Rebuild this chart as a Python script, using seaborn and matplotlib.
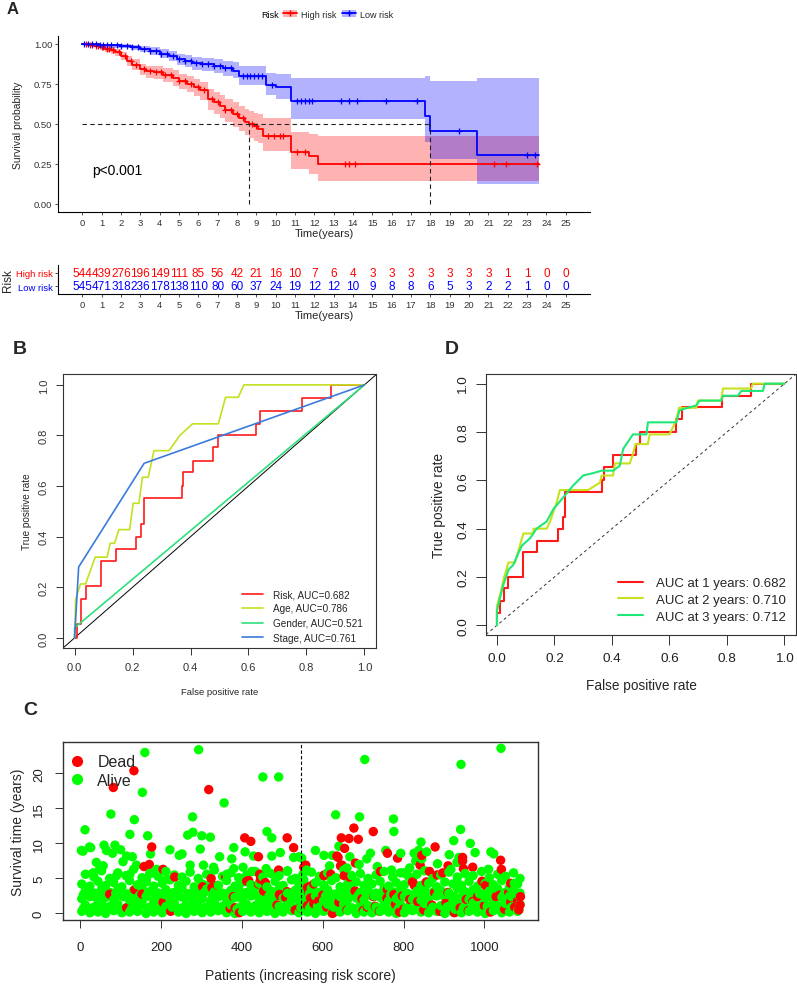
import numpy as np
import pandas as pd
import matplotlib
matplotlib.use('Agg')
import matplotlib.pyplot as plt
import seaborn as sns
from matplotlib.lines import Line2D
from matplotlib.patches import Patch

sns.set_theme(style='white')
plt.rcParams['font.family'] = ['Liberation Sans', 'DejaVu Sans']

# ---------------- Panel A data (Kaplan-Meier) ----------------
high_t = [0, 0.3, 0.6, 0.93, 1.2, 1.5, 1.7, 2.0, 2.3, 2.6, 3.0, 3.3, 3.7, 4.2, 4.7, 5.0, 5.4, 5.8, 6.1,
          6.5, 6.8, 7.1, 7.4, 7.8, 8.1, 8.4, 8.6, 8.9, 9.1, 9.35, 10.8, 11.75, 12.2, 23.6]
high_s = [1.0, 0.995, 0.99, 0.979, 0.97, 0.96, 0.948, 0.925, 0.896, 0.87, 0.844, 0.83, 0.823, 0.805, 0.79,
          0.77, 0.75, 0.73, 0.71, 0.656, 0.635, 0.61, 0.585, 0.56, 0.535, 0.515, 0.50, 0.485, 0.47, 0.427,
          0.323, 0.30, 0.25, 0.25]
high_lo = [1.0, 0.99, 0.98, 0.965, 0.95, 0.94, 0.925, 0.90, 0.865, 0.835, 0.806, 0.79, 0.78, 0.76, 0.74,
           0.72, 0.70, 0.675, 0.65, 0.59, 0.565, 0.535, 0.51, 0.48, 0.455, 0.43, 0.415, 0.395, 0.38, 0.33,
           0.22, 0.19, 0.145, 0.145]
high_hi = [1.0, 1.0, 1.0, 0.993, 0.99, 0.98, 0.97, 0.95, 0.925, 0.905, 0.875, 0.865, 0.86, 0.85, 0.835,
           0.815, 0.80, 0.78, 0.765, 0.72, 0.70, 0.68, 0.655, 0.635, 0.61, 0.595, 0.58, 0.57, 0.56, 0.54,
           0.45, 0.44, 0.425, 0.425]
high_censor = [0.2, 0.4, 0.5, 0.7, 0.8, 1.0, 1.1, 1.3, 1.4, 1.6, 1.9, 2.2, 2.5, 2.8, 3.2, 3.5, 3.8, 4.1,
               4.3, 4.6, 5.0, 5.3, 5.6, 6.0, 6.3, 6.7, 7.0, 7.4, 7.7, 8.0, 8.3, 8.8, 9.0, 9.6, 9.9, 10.2,
               10.4, 11.1, 11.5, 13.6, 13.8, 14.1, 21.3, 21.9, 23.5]

low_t = [0, 0.5, 0.9, 1.4, 2.0, 2.5, 3.0, 3.5, 4.0, 4.5, 4.9, 5.3, 5.7, 6.2, 6.8, 7.3, 7.8, 8.1, 9.5,
         10.0, 10.8, 17.7, 18.0, 20.4, 23.6]
low_s = [1.0, 0.998, 0.995, 0.992, 0.99, 0.98, 0.97, 0.955, 0.94, 0.925, 0.906, 0.893, 0.88, 0.872, 0.865,
         0.85, 0.833, 0.80, 0.745, 0.73, 0.646, 0.552, 0.458, 0.306, 0.306]
low_lo = [1.0, 0.99, 0.985, 0.978, 0.972, 0.96, 0.948, 0.93, 0.91, 0.893, 0.87, 0.855, 0.84, 0.83, 0.82,
          0.80, 0.785, 0.745, 0.68, 0.655, 0.53, 0.385, 0.28, 0.125, 0.125]
low_hi = [1.0, 1.0, 1.0, 1.0, 0.998, 0.995, 0.99, 0.98, 0.97, 0.955, 0.94, 0.93, 0.92, 0.91, 0.905, 0.895,
          0.885, 0.86, 0.82, 0.81, 0.79, 0.80, 0.77, 0.79, 0.79]
low_censor = [0.1, 0.3, 0.5, 0.7, 0.9, 1.1, 1.3, 1.5, 1.8, 2.0, 2.3, 2.6, 2.9, 3.2, 3.5, 3.8, 4.1, 4.4, 4.7,
              5.0, 5.3, 5.6, 5.9, 6.2, 6.5, 6.8, 7.1, 7.4, 7.7, 8.3, 8.5, 8.7, 8.9, 9.1, 9.3, 9.8, 11.1,
              11.3, 11.5, 11.7, 11.9, 13.4, 13.8, 14.2, 15.7, 17.3, 19.5, 23.0, 23.4]
median_high = 8.6
median_low = 18.0

years = list(range(26))
high_risk_n = [544, 439, 276, 196, 149, 111, 85, 56, 42, 21, 16, 10, 7, 6, 4, 3, 3, 3, 3, 3, 3, 3, 1, 1, 0, 0]
low_risk_n = [545, 471, 318, 236, 178, 138, 110, 80, 60, 37, 24, 19, 12, 12, 10, 9, 8, 8, 6, 5, 3, 2, 2, 1, 0, 0]

# ---------------- Panel B data (ROC by variable) ----------------
risk_fpr = [0, 0.01, 0.01, 0.023, 0.023, 0.038, 0.038, 0.09, 0.09, 0.142, 0.142, 0.211, 0.211, 0.23, 0.23,
            0.239, 0.239, 0.369, 0.369, 0.375, 0.375, 0.409, 0.409, 0.479, 0.479, 0.496, 0.496, 0.626,
            0.626, 0.64, 0.64, 0.786, 0.786, 0.886, 0.886, 1.0]
risk_tpr = [0, 0, 0.055, 0.055, 0.153, 0.153, 0.206, 0.206, 0.305, 0.305, 0.352, 0.352, 0.40, 0.40, 0.45,
            0.45, 0.553, 0.553, 0.602, 0.602, 0.655, 0.655, 0.70, 0.70, 0.753, 0.753, 0.80, 0.80, 0.846,
            0.846, 0.898, 0.898, 0.947, 0.947, 1.0, 1.0]
age_fpr = [0, 0.0035, 0.0206, 0.038, 0.071, 0.112, 0.123, 0.138, 0.153, 0.19, 0.202, 0.222, 0.234, 0.254,
           0.274, 0.326, 0.363, 0.407, 0.496, 0.521, 0.565, 0.584, 1.0]
age_tpr = [0, 0.153, 0.213, 0.213, 0.319, 0.319, 0.374, 0.374, 0.428, 0.428, 0.532, 0.532, 0.635, 0.635,
           0.74, 0.74, 0.80, 0.846, 0.846, 0.951, 0.951, 1.0, 1.0]
gender_fpr = [0, 0.0, 1.0]
gender_tpr = [0, 0.04, 1.0]
stage_fpr = [0, 0.014, 0.24, 1.0]
stage_tpr = [0, 0.28, 0.69, 1.0]
b_labels = ['Risk, AUC=0.682', 'Age, AUC=0.786', 'Gender, AUC=0.521', 'Stage, AUC=0.761']

# ---------------- Panel D data (time-dependent ROC) ----------------
y1_fpr = [0, 0.0, 0.0116, 0.0116, 0.023, 0.023, 0.04, 0.04, 0.092, 0.092, 0.138, 0.138, 0.213, 0.213,
          0.23, 0.23, 0.238, 0.238, 0.364, 0.364, 0.371, 0.371, 0.404, 0.404, 0.482, 0.482, 0.496, 0.496,
          0.624, 0.624, 0.645, 0.645, 0.784, 0.784, 0.884, 0.884, 1.0]
y1_tpr = [0, 0.05, 0.05, 0.10, 0.10, 0.153, 0.153, 0.20, 0.20, 0.304, 0.304, 0.35, 0.35, 0.40, 0.40, 0.45,
          0.45, 0.553, 0.553, 0.60, 0.60, 0.656, 0.656, 0.704, 0.704, 0.752, 0.752, 0.80, 0.80, 0.855,
          0.855, 0.904, 0.904, 0.95, 0.95, 1.0, 1.0]
y2_fpr = [0, 0.0, 0.012, 0.023, 0.04, 0.063, 0.07, 0.092, 0.127, 0.127, 0.173, 0.185, 0.208, 0.219, 0.317,
          0.358, 0.364, 0.404, 0.41, 0.462, 0.473, 0.482, 0.525, 0.531, 0.6, 0.624, 0.633, 0.693, 0.699,
          0.78, 0.786, 0.884, 0.89, 1.0]
y2_tpr = [0, 0.08, 0.13, 0.19, 0.26, 0.26, 0.29, 0.38, 0.38, 0.40, 0.40, 0.43, 0.51, 0.56, 0.56, 0.59,
          0.62, 0.62, 0.67, 0.67, 0.71, 0.75, 0.75, 0.79, 0.79, 0.85, 0.90, 0.90, 0.93, 0.93, 0.98, 0.98,
          1.0, 1.0]
y3_fpr = [0, 0.0, 0.012, 0.023, 0.04, 0.057, 0.075, 0.087, 0.115, 0.138, 0.173, 0.196, 0.231, 0.266,
          0.3, 0.335, 0.364, 0.404, 0.427, 0.439, 0.473, 0.52, 0.525, 0.624, 0.635, 0.693, 0.705, 0.78,
          0.786, 0.838, 0.85, 0.925, 0.931, 1.0]
y3_tpr = [0, 0.06, 0.12, 0.17, 0.23, 0.25, 0.30, 0.33, 0.36, 0.40, 0.43, 0.48, 0.53, 0.58, 0.62, 0.63,
          0.64, 0.64, 0.66, 0.73, 0.79, 0.79, 0.84, 0.84, 0.89, 0.91, 0.93, 0.93, 0.95, 0.95, 0.97, 0.97,
          1.0, 1.0]
d_labels = ['AUC at 1 years: 0.682', 'AUC at 2 years: 0.710', 'AUC at 3 years: 0.712']

# ---------------- Panel C data (survival status scatter) ----------------
band_xa = [4, 24, 44, 63, 83, 103, 122, 142, 163, 182, 203, 222, 243, 262, 282, 302, 323, 342, 362, 383,
           402, 422, 443, 462, 482, 502, 523, 541, 562, 582, 602, 622, 643, 662, 683, 702, 722, 742, 763,
           782, 802, 822, 843, 862, 882, 902, 922, 943, 962, 983, 1002, 1022, 1043, 1062, 1082]
band_xb = [13, 34, 53, 73, 93, 113, 132, 153, 172, 193, 212, 233, 252, 272, 292, 313, 332, 352, 373, 392,
           412, 433, 452, 472, 492, 513, 532, 551, 572, 592, 612, 633, 652, 672, 693, 712, 732, 752, 773,
           792, 812, 833, 852, 872, 892, 912, 933, 952, 972, 993, 1012, 1033, 1052, 1072, 1088]
band_xc = [8, 29, 49, 68, 88, 108, 127, 147, 168, 187, 208, 227, 248, 267, 287, 307, 328, 347, 367, 388,
           407, 427, 448, 467, 487, 507, 528, 546, 567, 587, 607, 627, 648, 667, 688, 707, 727, 747, 768,
           787, 807, 827, 848, 867, 887, 907, 927, 948, 967, 988, 1007, 1027, 1048, 1067, 1085]
band_t0 = [0.3, 0.1, 0.2, 0.0, 0.4, 0.1, 0.2, 0.3, 0.0, 0.2, 0.1, 0.4, 0.2, 0.0, 0.3, 0.1, 0.2, 0.4, 0.1,
           0.0, 0.3, 0.2, 0.1, 0.3, 0.0, 0.2, 0.4, 0.1, 0.2, 0.0, 0.3, 0.1, 0.2, 0.4, 0.0, 0.2, 0.1, 0.3,
           0.2, 0.0, 0.1, 0.4, 0.2, 0.1, 0.3, 0.0, 0.2, 0.1, 0.3, 0.2, 0.0, 0.4, 0.1, 0.2, 0.3]
band_t1 = [1.2, 0.9, 1.4, 1.0, 1.3, 0.8, 1.1, 1.5, 0.9, 1.2, 1.0, 1.4, 0.8, 1.3, 1.1, 0.9, 1.5, 1.0, 1.2,
           0.8, 1.3, 1.1, 0.9, 1.4, 1.0, 1.2, 0.8, 1.5, 1.1, 0.9, 1.3, 1.0, 1.4, 0.8, 1.2, 1.1, 0.9, 1.5,
           1.0, 1.3, 0.8, 1.2, 1.4, 0.9, 1.1, 1.0, 1.3, 0.8, 1.5, 1.2, 0.9, 1.1, 1.4, 1.0, 1.3]
band_t2 = [2.1, 2.4, 1.8, 2.3, 2.0, 2.5, 1.9, 2.2, 2.4, 1.8, 2.3, 2.0, 2.5, 1.9, 2.2, 2.1, 1.8, 2.4, 2.0,
           2.3, 1.9, 2.5, 2.1, 1.8, 2.4, 2.2, 2.0, 1.9, 2.3, 2.5, 1.8, 2.1, 2.4, 2.0, 2.2, 1.9, 2.5, 2.3,
           1.8, 2.1, 2.4, 2.0, 1.9, 2.2, 2.5, 2.3, 1.8, 2.1, 2.0, 2.4, 2.2, 1.9, 2.3, 2.5, 2.0]
band_t3 = [3.2, 2.9, 3.5, 3.0, 3.4, 2.8, 3.3, 3.6, 3.1, 2.9, 3.4, 3.0, 3.6, 2.8, 3.2, 3.5, 3.1, 2.9, 3.3,
           3.6, 3.0, 3.4, 2.8, 3.2, 3.5, 2.9, 3.3, 3.1, 3.6, 3.0, 3.4, 2.8, 3.2, 3.5, 3.0, 3.3, 2.9, 3.6,
           3.1, 3.4, 2.8, 3.2, 3.5, 3.0, 3.3, 2.9, 3.6, 3.1, 3.4, 2.8, 3.2, 3.5, 3.0, 3.3, 2.9]
band_t4 = [4.2, 3.9, 4.6, 4.0, 4.4, 3.8, 4.7, 4.1, 4.5, 3.9, 4.3, 4.8, 4.0, 4.6, 3.8, 4.2, 4.4, 4.0, 4.7,
           3.9, 4.5, 4.1, 4.3, 3.8, 4.6, 4.0, 4.8, 4.2, 3.9, 4.4, 4.1, 4.7, 3.8, 4.3, 4.5, 4.0, 4.2, 4.6,
           3.9, 4.4, 4.1, 4.8, 4.0, 4.3, 3.8, 4.5, 4.2, 4.0, 4.6, 3.9, 4.3, 4.1, 4.7, 3.8, 4.2]
band_t5 = [5.6, 5.2, 6.1, 5.0, 5.8, 5.4, 6.3, 5.1, 5.7, 5.3, 6.0, 5.5, 5.2, 5.9, 5.0, 5.6, 6.2, 5.3, 5.8,
           5.1, 5.5, 6.0, 5.2, 5.7, 5.4, 6.1, 5.0, 5.6, 5.9, 5.3, 5.8, 5.1, 6.2, 5.4, 5.7, 5.0, 5.5, 6.0,
           5.2, 5.8, 5.3, 5.6, 6.1, 5.0, 5.5, 5.9, 5.2, 5.7, 5.4, 6.0, 5.1, 5.6, 5.3, 5.8, 5.0]
band_t6 = [0.7, 0.5, 0.9, 0.6, 0.8, 0.5, 0.7, 1.0, 0.6, 0.8, 0.5, 0.9, 0.7, 0.6, 1.0, 0.8, 0.5, 0.7, 0.9,
           0.6, 0.8, 0.5, 1.0, 0.7, 0.6, 0.9, 0.5, 0.8, 0.7, 1.0, 0.6, 0.9, 0.5, 0.8, 0.7, 0.6, 1.0, 0.5,
           0.9, 0.7, 0.8, 0.6, 0.5, 1.0, 0.7, 0.9, 0.6, 0.8, 0.5, 0.7, 1.0, 0.6, 0.8, 0.9, 0.5]
band_t7 = [2.7, 2.5, 3.0, 2.6, 2.9, 2.4, 2.8, 2.6, 3.0, 2.5, 2.7, 2.9, 2.4, 2.8, 2.6, 3.0, 2.5, 2.7, 2.9,
           2.4, 2.8, 2.6, 3.0, 2.5, 2.7, 2.4, 2.9, 2.6, 2.8, 3.0, 2.5, 2.7, 2.4, 2.9, 2.6, 2.8, 2.5, 3.0,
           2.7, 2.4, 2.9, 2.6, 2.8, 2.5, 3.0, 2.7, 2.4, 2.9, 2.6, 2.8, 2.5, 3.0, 2.7, 2.4, 2.6]

alive_x = [160, 154, 76, 134, 12, 123, 167, 26, 3, 7, 23, 59, 86, 65, 80, 100, 115, 129, 174, 222, 245, 40,
           57, 106, 139, 32, 48, 90, 123, 189, 181, 164, 214,
           293, 452, 491, 356, 278, 279, 266, 301, 322, 462, 474, 380, 297, 252, 408, 429, 474, 495, 528,
           345, 375, 272, 305, 330, 380, 403, 425, 460, 512, 363, 541, 553, 548, 560,
           704, 632, 691, 775, 776, 640, 582, 603, 624, 667, 709, 718, 756, 793, 826, 617,
           660, 690, 735, 770, 800, 815, 830, 845,
           1041, 942, 941, 924, 965, 977, 1016, 1023, 843, 837, 857, 913, 937, 884, 932, 1010, 917, 932,
           1041, 1074]
alive_t = [23.0, 17.3, 14.2, 13.4, 11.95, 11.3, 11.1, 9.4, 9.0, 8.9, 9.5, 9.76, 9.76, 9.0, 8.6, 9.1, 8.2,
           8.1, 8.5, 9.1, 8.3, 7.3, 6.8, 7.4, 6.9, 5.8, 6.3, 5.4, 5.6, 6.3, 5.8, 4.9, 4.9,
           23.4, 19.5, 19.5, 15.8, 13.8, 11.6, 11.2, 11.1, 10.9, 11.7, 10.8, 9.4, 9.2, 8.5, 8.8, 8.2, 8.2,
           8.7, 8.0, 8.1, 7.8, 6.9, 6.9, 6.6, 6.4, 6.6, 6.0, 6.4, 6.0, 5.6, 8.1, 4.8, 7.9, 6.2,
           22.0, 14.1, 13.8, 13.5, 11.7, 9.6, 9.0, 8.3, 8.3, 8.1, 7.8, 8.6, 9.0, 8.6, 8.6, 6.8,
           6.5, 7.0, 6.7, 6.2, 5.8, 6.5, 7.5, 7.8,
           23.6, 21.3, 12.0, 10.4, 10.0, 8.7, 8.8, 8.5, 10.2, 9.0, 8.8, 8.4, 8.0, 7.1, 7.3, 6.3, 6.3, 4.5,
           5.3, 4.3]

dead_x = [133, 82, 177, 158, 171, 205, 234, 135, 153, 115, 224, 73, 205, 82,
          318, 407, 422, 512, 528, 441, 491, 324, 446, 360, 417, 441, 303, 326, 340, 454, 394, 383, 495,
          371, 379, 444, 493, 508, 512, 487, 532, 458, 412,
          677, 725, 646, 665, 688, 654, 638, 760, 785, 558, 553, 681, 648, 743, 603, 620, 653, 666, 570,
          562, 578, 565, 570, 545, 562, 578, 626, 660, 697, 726, 759, 776, 797, 822, 828, 604, 624, 635,
          644,
          878, 845, 946, 946, 1040, 1042, 841, 910, 948, 971, 864, 883, 897, 856, 827, 1065, 1089, 1088,
          1082, 1037, 1029, 994, 1003, 983, 971, 926, 910, 877, 835, 1050, 1065,
          850, 870, 890, 905, 940, 955, 960, 1000, 1015, 1060, 1075, 1085, 710, 740, 780, 800, 815, 600,
          590, 610, 640, 680, 700, 730, 760, 790]
dead_t = [20.4, 18.0, 9.5, 6.7, 7.0, 6.3, 5.2, 3.4, 2.75, 0.8, 0.3, 2.75, 1.6, 2.5,
          17.7, 10.8, 10.3, 10.8, 9.4, 8.1, 6.2, 5.0, 4.9, 5.2, 4.7, 4.2, 3.8, 3.7, 4.0, 3.2, 0.1, 0.8, 2.5,
          0.7, 2.4, 5.6, 2.7, 2.3, 3.1, 1.2, 0.5, 4.4, 4.6,
          12.2, 11.7, 10.8, 10.7, 10.6, 9.3, 8.0, 8.6, 7.9, 6.9, 6.6, 7.2, 6.9, 6.0, 5.4, 5.6, 5.4, 5.2,
          3.9, 3.7, 4.2, 3.0, 2.2, 0.8, 1.1, 1.4, 0.1, 0.5, 2.1, 2.4, 2.2, 2.7, 2.5, 4.5, 4.0, 5.5, 0.0,
          8.2, 6.8,
          9.5, 8.3, 8.0, 7.5, 7.6, 6.3, 6.9, 6.8, 6.4, 6.6, 6.0, 5.5, 5.8, 4.5, 4.0, 4.3, 2.4, 1.2, 1.8,
          2.6, 2.4, 4.6, 4.0, 2.4, 1.7, 0.1, 3.0, 3.0, 1.7, 0.6, 1.6,
          0.5, 1.2, 0.3, 1.5, 0.8, 2.0, 0.4, 1.1, 0.2, 3.0, 0.9, 0.5, 0.9, 0.3, 1.3, 0.6, 2.0, 2.6, 1.8,
          0.9, 1.6, 3.2, 0.4, 1.0, 3.4, 0.2]
risk_cutoff = 545

# ---------------- Figure ----------------
W, H = 797, 987
fig = plt.figure(figsize=(W / 100, H / 100), dpi=100)


def ax_px(l, t, r, b):
    return fig.add_axes([l / W, 1 - b / H, (r - l) / W, (b - t) / H])


RED, BLUE = '#FF0000', '#0000FF'
TXT = '#333333'

# ----- Panel A -----
axA = ax_px(58, 37, 590, 213)
axA.fill_between(high_t, high_lo, high_hi, step='post', color=RED, alpha=0.3, lw=0)
axA.fill_between(low_t, low_lo, low_hi, step='post', color=BLUE, alpha=0.3, lw=0)
sns.lineplot(x=high_t, y=high_s, drawstyle='steps-post', estimator=None, sort=False, color=RED, lw=1.3, ax=axA)
sns.lineplot(x=low_t, y=low_s, drawstyle='steps-post', estimator=None, sort=False, color=BLUE, lw=1.3, ax=axA)
for ct, tt, ss, col in [(high_censor, high_t, high_s, RED), (low_censor, low_t, low_s, BLUE)]:
    idx = np.searchsorted(tt, ct, side='right') - 1
    axA.plot(ct, np.array(ss)[idx], ls='none', marker='+', color=col, ms=5, mew=0.9)
axA.plot([0, median_low], [0.5, 0.5], ls=(0, (4, 3)), color='#222222', lw=0.8)
axA.plot([median_high, median_high], [0, 0.5], ls=(0, (4, 3)), color='#222222', lw=0.8)
axA.plot([median_low, median_low], [0, 0.5], ls=(0, (4, 3)), color='#222222', lw=0.8)
axA.text(0.5, 0.21, 'p<0.001', fontsize=10, color='black', va='center', ha='left')
axA.set_xlim(-1.25, 26.25)
axA.set_ylim(-0.05, 1.05)
axA.set_xticks(years)
axA.set_yticks([0, 0.25, 0.5, 0.75, 1.0])
axA.set_yticklabels(['0.00', '0.25', '0.50', '0.75', '1.00'])
axA.tick_params(axis='both', length=2.5, width=0.6, pad=1.5, labelsize=6.8, labelcolor=TXT, color=TXT,
                bottom=True, left=True)
axA.set_xlabel('Time(years)', fontsize=8, labelpad=1)
axA.set_ylabel('Survival probability', fontsize=7.5, labelpad=8)
for s in ['top', 'right']:
    axA.spines[s].set_visible(False)
for s in ['left', 'bottom']:
    axA.spines[s].set_color('black')
    axA.spines[s].set_linewidth(0.8)

# legend of A
hdl_h = (Patch(facecolor=RED, alpha=0.3, lw=0), Line2D([], [], color=RED, marker='+', lw=1.3, ms=5))
hdl_l = (Patch(facecolor=BLUE, alpha=0.3, lw=0), Line2D([], [], color=BLUE, marker='+', lw=1.3, ms=5))
fig.text(279 / W, 1 - 15 / H, 'Risk', fontsize=6.5, va='center', ha='right', color='black')
fig.legend([hdl_h, hdl_l], ['High risk', 'Low risk'], loc='center left', bbox_to_anchor=(283 / W, 1 - 15 / H),
           ncol=2, frameon=False, fontsize=6.5, handlelength=1.6, handletextpad=0.4, columnspacing=0.6,
           borderaxespad=0, borderpad=0)
fig.text(7 / W, 1 - 2 / H, 'A', fontsize=12, fontweight='bold', va='top', ha='left')

# ----- Risk table -----
axT = ax_px(58, 266, 590, 295)
for yr, hn, ln in zip(years, high_risk_n, low_risk_n):
    axT.text(yr, 2, str(hn), color=RED, fontsize=8.5, ha='center', va='center')
    axT.text(yr, 1, str(ln), color=BLUE, fontsize=8.5, ha='center', va='center')
axT.set_xlim(-1.25, 26.25)
axT.set_ylim(0.4, 2.6)
axT.set_xticks(years)
axT.set_yticks([1, 2])
axT.set_yticklabels(['Low risk', 'High risk'])
for lab, col in zip(axT.get_yticklabels(), [BLUE, RED]):
    lab.set_color(col)
axT.tick_params(axis='both', length=2.5, width=0.6, pad=1.5, labelsize=6.8, color=TXT, bottom=True, left=True)
axT.tick_params(axis='x', labelcolor=TXT)
axT.tick_params(axis='y', labelsize=6.8)
axT.set_xlabel('Time(years)', fontsize=8, labelpad=1)
axT.set_ylabel('Risk', fontsize=8.5, labelpad=1)
for s in ['top', 'right']:
    axT.spines[s].set_visible(False)
for s in ['left', 'bottom']:
    axT.spines[s].set_color('black')
    axT.spines[s].set_linewidth(0.8)


def r_box(ax, lw=0.8):
    for s in ax.spines.values():
        s.set_visible(True)
        s.set_color('#333333')
        s.set_linewidth(lw)


# ----- Panel B -----
axB = ax_px(63, 375, 376, 649)
axB.axline((0, 0), (1, 1), color='black', lw=0.7)
b_cols = ['#FF1A1A', '#C4E021', '#2EE07A', '#3A7BDB']
for fx, ty, col, lab in zip([risk_fpr, age_fpr, gender_fpr, stage_fpr], [risk_tpr, age_tpr, gender_tpr, stage_tpr],
                            b_cols, b_labels):
    sns.lineplot(x=fx, y=ty, estimator=None, sort=False, color=col, lw=1.2, ax=axB, label=lab)
axB.set_xlim(-0.04, 1.04)
axB.set_ylim(-0.04, 1.043)
axB.set_xticks([0, 0.2, 0.4, 0.6, 0.8, 1.0])
axB.set_yticks([0, 0.2, 0.4, 0.6, 0.8, 1.0])
axB.set_xticklabels(['0.0', '0.2', '0.4', '0.6', '0.8', '1.0'])
axB.set_yticklabels(['0.0', '0.2', '0.4', '0.6', '0.8', '1.0'])
axB.tick_params(axis='both', length=5, width=0.7, pad=5, labelsize=8, color='#333333', labelcolor='#333333',
                bottom=True, left=True)
axB.tick_params(axis='y', labelrotation=90)
for lab in axB.get_yticklabels():
    lab.set_va('center')
axB.set_xlabel('False positive rate', fontsize=6.8, labelpad=11,
               family=['Liberation Sans Narrow', 'Liberation Sans', 'DejaVu Sans'])
axB.set_ylabel('True positive rate', fontsize=7.2, labelpad=5,
               family=['Liberation Sans Narrow', 'Liberation Sans', 'DejaVu Sans'])
r_box(axB)
axB.legend(loc='upper left', bbox_to_anchor=((242 - 63) / 313, (649 - 590) / 274), frameon=False,
           fontsize=7.2, handlelength=2.1, handletextpad=1.0, labelspacing=0.45, borderpad=0, borderaxespad=0)
fig.text(13 / W, 1 - 341 / H, 'B', fontsize=14, fontweight='bold', va='top', ha='left')

# ----- Panel D -----
axD = ax_px(486, 375, 796, 636)
axD.axline((0, 0), (1, 1), color='#333333', lw=0.7, ls=(0, (3, 3)))
d_cols = ['#FF1A1A', '#C8E11E', '#1EE878']
for fx, ty, col, lab in zip([y1_fpr, y2_fpr, y3_fpr], [y1_tpr, y2_tpr, y3_tpr], d_cols, d_labels):
    sns.lineplot(x=fx, y=ty, estimator=None, sort=False, color=col, lw=1.5, ax=axD, label=lab)
axD.set_xlim(-0.038, 1.04)
axD.set_ylim(-0.04, 1.04)
axD.set_xticks([0, 0.2, 0.4, 0.6, 0.8, 1.0])
axD.set_yticks([0, 0.2, 0.4, 0.6, 0.8, 1.0])
axD.set_xticklabels(['0.0', '0.2', '0.4', '0.6', '0.8', '1.0'])
axD.set_yticklabels(['0.0', '0.2', '0.4', '0.6', '0.8', '1.0'])
axD.tick_params(axis='both', length=7, width=0.7, pad=5, labelsize=9.7, color='#333333', labelcolor='#222222',
                bottom=True, left=True)
axD.tick_params(axis='y', labelrotation=90)
for lab in axD.get_yticklabels():
    lab.set_va('center')
axD.set_xlabel('False positive rate', fontsize=9.8, labelpad=10)
axD.set_ylabel('True positive rate', fontsize=9.8, labelpad=8)
r_box(axD)
axD.legend(loc='upper left', bbox_to_anchor=((618 - 486) / 310, (636 - 578) / 261), frameon=False,
           fontsize=9.5, handlelength=1.9, handletextpad=1.0, labelspacing=0.35, borderpad=0, borderaxespad=0)
fig.text(445 / W, 1 - 341 / H, 'D', fontsize=14, fontweight='bold', va='top', ha='left')

# ----- Panel C -----
axC = ax_px(63, 743, 538, 921)
band_x = band_xa + band_xb + band_xa + band_xb + band_xa + band_xb + band_xc + band_xc
band_t = band_t0 + band_t1 + band_t2 + band_t3 + band_t4 + band_t5 + band_t6 + band_t7
df = pd.DataFrame({
    'patient': band_x + alive_x + dead_x,
    'time': band_t + alive_t + dead_t,
    'status': ['Alive'] * (len(band_x) + len(alive_x)) + ['Dead'] * len(dead_x),
})
df = df.sort_values('patient', kind='stable')
sns.scatterplot(data=df, x='patient', y='time', hue='status', palette={'Dead': '#FF0000', 'Alive': '#00FF00'},
                s=46, linewidth=0, alpha=1, legend=False, ax=axC)
axC.axvline(risk_cutoff, color='black', lw=0.8, ls=(0, (3, 2)))
axC.set_xlim(-42.5, 1132.5)
axC.set_ylim(-0.94, 24.5)
axC.set_xticks([0, 200, 400, 600, 800, 1000])
axC.set_yticks([0, 5, 10, 15, 20])
axC.tick_params(axis='both', length=6, width=0.7, pad=9, labelsize=9.5, color='#333333', labelcolor='#222222',
                bottom=True, left=True)
axC.tick_params(axis='y', labelrotation=90, pad=7)
for lab in axC.get_yticklabels():
    lab.set_va('center')
axC.set_xlabel('Patients (increasing risk score)', fontsize=10, labelpad=11)
axC.set_ylabel('Survival time (years)', fontsize=10, labelpad=6)
r_box(axC, lw=1.0)
leg_h = [Line2D([], [], ls='none', marker='o', color='#FF0000', ms=7),
         Line2D([], [], ls='none', marker='o', color='#00FF00', ms=7)]
axC.legend(leg_h, ['Dead', 'Alive'], loc='upper left', bbox_to_anchor=(0.015, 0.93), frameon=False,
           fontsize=11.5, handlelength=0.8, handletextpad=0.9, labelspacing=0.2, borderpad=0, borderaxespad=0)
fig.text(23 / W, 1 - 702 / H, 'C', fontsize=14, fontweight='bold', va='top', ha='left')

fig.savefig('out.png', dpi=100)
